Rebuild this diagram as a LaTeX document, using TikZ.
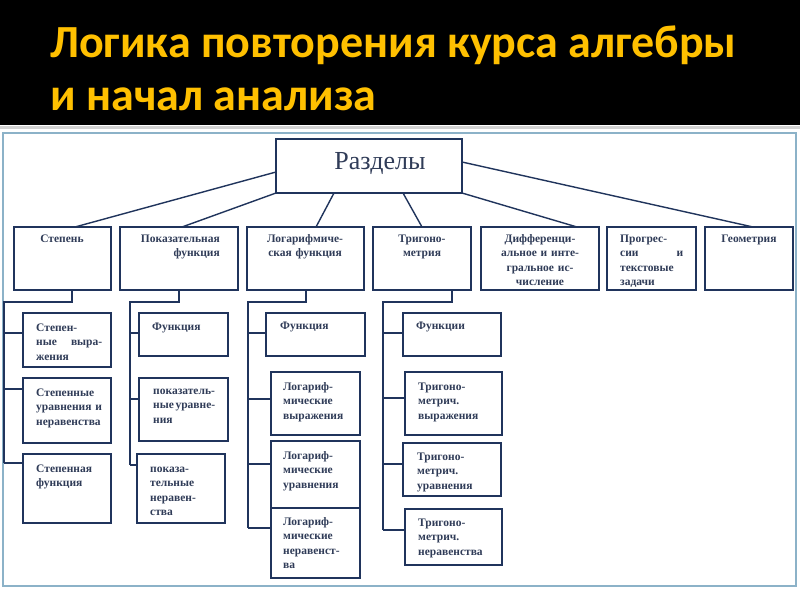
\documentclass[tikz,border=0pt]{standalone}
\usepackage{fontspec}
\setmainfont{Liberation Serif}
\newfontfamily\titlefont{Carlito}
\usetikzlibrary{calc}
\definecolor{gold}{RGB}{255,192,0}
\definecolor{navy}{RGB}{32,52,92}
\definecolor{txtc}{RGB}{48,60,88}
\definecolor{framec}{RGB}{140,178,200}
\newcommand\mybox[5]{\node[box, minimum width={#4-#2}, minimum height={#5-#3}] (#1) at (#2,#3) {};}
\begin{document}
\begin{tikzpicture}[x=1pt,y=-1pt,
  box/.style={draw=navy, line width=1.4pt, rectangle, inner sep=0pt, outer sep=0pt, anchor=north west},
  lnk/.style={draw=navy, line width=1.4pt},
  lbl/.style={text=txtc, font=\fontsize{11.5}{14.5}\selectfont\bfseries, inner sep=0pt},
  lblL/.style={lbl, anchor=base west, align=left, text width=72pt},
  lblC/.style={lbl, anchor=base, align=center, text width=100pt},
  ttl/.style={text=gold, font=\titlefont\bfseries\fontsize{46}{53}\selectfont, inner sep=0pt, anchor=base west},
]
\useasboundingbox (0,0) rectangle (800,600);
\fill[black] (0,0) rectangle (800,125);
\fill[white] (0,125) rectangle (800,600);
\draw[gray!35, line width=2.5pt] (0,127.5) -- (800,127.5);
\draw[framec, line width=1.5pt] (3,133) rectangle (796,586);

\node[ttl] (t1) at (50,57) {Логика повторения курса алгебры};
\node[ttl] (t2) at (50,110) {и начал анализа};

% root
\mybox{razd}{276}{139}{462}{193}
\node[text=txtc, font=\fontsize{26}{30}\selectfont, inner sep=0pt, anchor=base] (razdt) at (380,169) {Разделы};

% level 1
\mybox{stp}{14}{227}{111}{290}
\mybox{pok}{120}{227}{238}{290}
\mybox{log}{247}{227}{364}{290}
\mybox{trig}{373}{227}{471}{290}
\mybox{dif}{481}{227}{599}{290}
\mybox{prog}{607}{227}{696}{290}
\mybox{geo}{705}{227}{793}{290}

\node[lblC] (stpt) at (62,242) {Степень};
\node[lbl, anchor=base east, align=right, text width=100pt] (pokt) at (220,242) {Показательная\\функция};
\node[lblC] (logt) at (305,242) {Логарифмиче-\\ская функция};
\node[lblC] (trigt) at (422,242) {Тригоно-\\метрия};
\node[lblC] (dift) at (540,242) {Дифференци-\\альное и инте-\\гральное ис-\\числение};
\node[lbl, anchor=base west, text width=63pt, align=left] (progt) at (620,242) {Прогрес-\\сии\hfill и\\текстовые\\задачи};
\node[lblC] (geot) at (749,242) {Геометрия};

% root connectors
\draw[lnk] ($(razd.north west)+(0,33)$) -- ($(stp.north west)+(61,0)$);
\draw[lnk] (razd.south west) -- ($(pok.north west)+(62,0)$);
\draw[lnk] ($(razd.south west)+(58,0)$) -- ($(log.north west)+(69,0)$);
\draw[lnk] ($(razd.south west)+(127,0)$) -- ($(trig.north west)+(49,0)$);
\draw[lnk] (razd.south east) -- ($(dif.north west)+(96,0)$);
\draw[lnk] ($(razd.north east)+(0,23)$) -- ($(geo.north west)+(48,0)$);

% level 2: Степень
\mybox{se}{23}{313}{111}{367}
\mybox{su}{23}{378}{111}{443}
\mybox{sf}{23}{454}{111}{523}
\node[lbl, anchor=base west, text width=66pt, align=left] (set) at (36,331) {Степен-\\ные\hfill выра-\\жения};
\node[lblL] (sut) at (36,396) {Степенные\\уравнения и\\неравенства};
\node[lblL] (sft) at (36,472) {Степенная\\функция};
\coordinate (s0) at (4,302);
\coordinate (seb) at ($(se.north west)+(0,20)$);
\coordinate (sub) at ($(su.north west)+(0,11)$);
\coordinate (sfb) at ($(sf.north west)+(0,9)$);
\draw[lnk] ($(stp.south west)+(58,0)$) |- (s0) -- (s0 |- sfb);
\draw[lnk] (s0 |- seb) -- (seb);
\draw[lnk] (s0 |- sub) -- (sub);
\draw[lnk] (s0 |- sfb) -- (sfb);

% level 2: Показательная
\mybox{pf}{139}{313}{228}{356}
\mybox{pu}{139}{378}{228}{441}
\mybox{pn}{137}{454}{225}{523}
\node[lblL] (pft) at (152,330) {Функция};
\node[lbl, anchor=base west, align=left, text width=62pt] (put) at (153,394) {показатель-\\ные\hfill уравне-\\ния};
\node[lblL] (pnt) at (150,472) {показа-\\тельные\\неравен-\\ства};
\coordinate (p0) at (130,302);
\coordinate (pfb) at ($(pf.north west)+(0,20)$);
\coordinate (pub) at ($(pu.north west)+(0,21)$);
\coordinate (pnb) at ($(pn.north west)+(0,11)$);
\draw[lnk] ($(pok.south west)+(59,0)$) |- (p0) -- (p0 |- pnb);
\draw[lnk] (p0 |- pfb) -- (pfb);
\draw[lnk] (p0 |- pub) -- (pub);
\draw[lnk] (p0 |- pnb) -- (pnb);

% level 2: Логарифмическая
\mybox{lf}{266}{313}{365}{356}
\mybox{lv}{271}{372}{360}{435}
\mybox{lu}{271}{441}{360}{508}
\mybox{ln}{271}{508}{360}{578}
\node[lblL] (lft) at (280,329) {Функция};
\node[lblL] (lvt) at (283,390) {Логариф-\\мические\\выражения};
\node[lblL] (lut) at (283,459) {Логариф-\\мические\\уравнения};
\node[lblL] (lnt) at (283,525) {Логариф-\\мические\\неравенст-\\ва};
\coordinate (l0) at (248,302);
\coordinate (lfb) at ($(lf.north west)+(0,20)$);
\coordinate (lvb) at ($(lv.north west)+(0,27)$);
\coordinate (lub) at ($(lu.north west)+(0,23)$);
\coordinate (lnb) at ($(ln.north west)+(0,20)$);
\draw[lnk] ($(log.south west)+(59,0)$) |- (l0) -- (l0 |- lnb);
\draw[lnk] (l0 |- lfb) -- (lfb);
\draw[lnk] (l0 |- lvb) -- (lvb);
\draw[lnk] (l0 |- lub) -- (lub);
\draw[lnk] (l0 |- lnb) -- (lnb);

% level 2: Тригонометрия
\mybox{tf}{403}{313}{501}{356}
\mybox{tv}{405}{372}{502}{435}
\mybox{tu}{403}{443}{501}{496}
\mybox{tn}{405}{509}{502}{565}
\node[lblL] (tft) at (416,329) {Функции};
\node[lblL] (tvt) at (418,390) {Тригоно-\\метрич.\\выражения};
\node[lblL] (tut) at (417,460) {Тригоно-\\метрич.\\уравнения};
\node[lblL] (tnt) at (418,526) {Тригоно-\\метрич.\\неравенства};
\coordinate (r0) at (383,302);
\coordinate (tfb) at ($(tf.north west)+(0,20)$);
\coordinate (tvb) at ($(tv.north west)+(0,26)$);
\coordinate (tub) at ($(tu.north west)+(0,21)$);
\coordinate (tnb) at ($(tn.north west)+(0,21)$);
\draw[lnk] ($(trig.south west)+(79,0)$) |- (r0) -- (r0 |- tnb);
\draw[lnk] (r0 |- tfb) -- (tfb);
\draw[lnk] (r0 |- tvb) -- (tvb);
\draw[lnk] (r0 |- tub) -- (tub);
\draw[lnk] (r0 |- tnb) -- (tnb);
\end{tikzpicture}
\end{document}
